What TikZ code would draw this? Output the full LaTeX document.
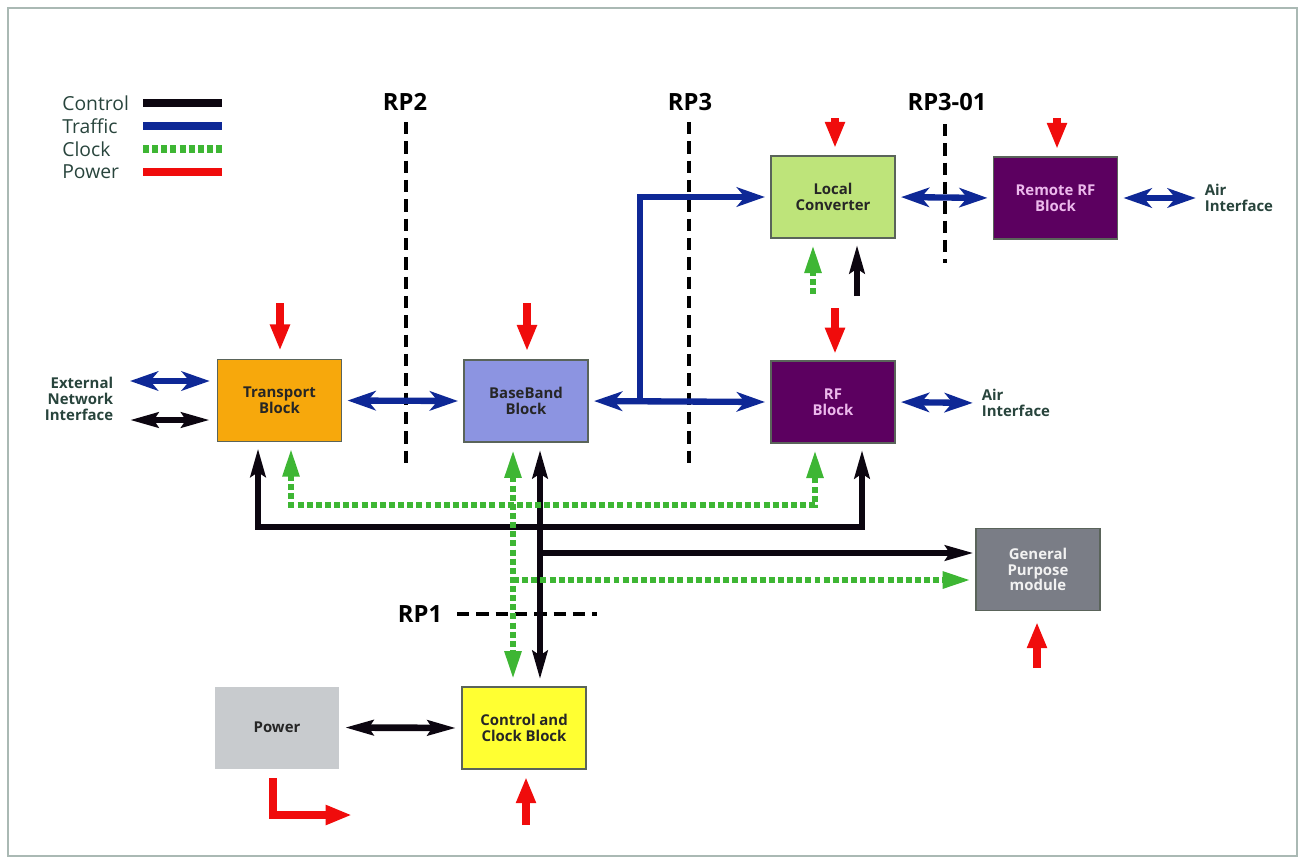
\documentclass[tikz,border=0pt]{standalone}
\usepackage{fontspec}
\setmainfont{Open Sans}
\usetikzlibrary{arrows.meta,calc}
\definecolor{ctlc}{RGB}{12,6,16}
\definecolor{trafc}{RGB}{14,40,150}
\definecolor{clkc}{RGB}{62,182,52}
\definecolor{pwc}{RGB}{240,12,12}
\definecolor{orangec}{RGB}{247,168,12}
\definecolor{bbc}{RGB}{140,148,225}
\definecolor{purp}{RGB}{92,0,96}
\definecolor{pinkt}{RGB}{236,185,236}
\definecolor{lcgc}{RGB}{190,228,122}
\definecolor{gpc}{RGB}{122,125,134}
\definecolor{pwrc}{RGB}{200,203,206}
\definecolor{yelc}{RGB}{255,255,50}
\definecolor{edgec}{RGB}{90,100,90}
\definecolor{txtc}{RGB}{40,68,60}
\definecolor{framec}{RGB}{170,185,180}
\begin{document}
\begin{tikzpicture}[x=0.02cm,y=-0.02cm,
  box/.style={draw=edgec, line width=0.9pt, minimum width=2.48cm, minimum height=1.64cm,
    inner sep=1pt, align=center, font=\fontsize{8.5}{9}\selectfont\bfseries, text=black!85},
  lbl/.style={font=\fontsize{8.5}{9}\selectfont\bfseries, text=txtc, inner sep=2pt},
  leg/.style={font=\fontsize{11}{12}\selectfont, text=txtc, inner sep=0pt},
  rpl/.style={font=\fontsize{13.5}{16}\selectfont\bfseries, text=black, inner sep=0pt},
  rpd/.style={draw=black, line width=2.8pt, dash pattern=on 7pt off 4pt},
  ctl/.style={draw=ctlc, line width=3.8pt, >={Stealth[length=16pt,width=8.5pt,inset=2.5pt]}},
  traf/.style={draw=trafc, line width=3.6pt, >={Stealth[length=16pt,width=11pt,inset=4.5pt]}},
  clk/.style={draw=clkc, line width=3.4pt, dash pattern=on 3.4pt off 1.8pt, >={Triangle[length=16pt,width=9pt]}},
  pw/.style={draw=pwc, line width=4.3pt, >={Triangle[length=15pt,width=10.5pt]}},
  gap/.style={shorten >=3pt, shorten <=3pt}
]
\useasboundingbox (0,0) rectangle (1304,860);
\draw[framec, line width=0.8pt] (8,8) rectangle (1297,856);

% legend
\node[leg,anchor=west] (lgc) at (62,103) {Control};
\node[leg,anchor=west] (lgt) at (62,126) {Traffic};
\node[leg,anchor=west] (lgk) at (62,149) {Clock};
\node[leg,anchor=west] (lgp) at (62,172) {Power};
\coordinate (la1) at (143,103); \coordinate (lb1) at (222,103);
\coordinate (la2) at (143,126); \coordinate (lb2) at (222,126);
\coordinate (la3) at (143,149); \coordinate (lb3) at (222,149);
\coordinate (la4) at (143,172); \coordinate (lb4) at (222,172);
\draw[ctl,line width=4pt] (la1) -- (lb1);
\draw[traf,line width=4pt] (la2) -- (lb2);
\draw[clk,line width=4pt] (la3) -- (lb3);
\draw[pw,line width=4pt] (la4) -- (lb4);

% blocks
\node[box,fill=orangec] (trans) at (279.5,400.5) {Transport\\Block};
\node[box,fill=bbc] (base) at (526,401) {BaseBand\\Block};
\node[box,fill=purp,text=pinkt] (rf) at (833,402) {RF\\Block};
\node[box,fill=lcgc] (lc) at (833,197) {Local\\Converter};
\node[box,fill=purp,text=pinkt] (rrf) at (1055.5,198) {Remote RF\\Block};
\node[box,fill=gpc,text=white!90!gray] (gp) at (1038,569.5) {General\\Purpose\\module};
\node[box,fill=pwrc,draw=none] (pwr) at (277,727.5) {Power};
\node[box,fill=yelc] (ccb) at (524,728) {Control and\\Clock Block};

% text labels
\node[lbl,align=right,anchor=east] (ext) at (117,399) {External\\Network\\Interface};
\node[lbl,align=left,anchor=west] (air1) at (978,403) {Air\\Interface};
\node[lbl,align=left,anchor=west] (air2) at (1201,198) {Air\\Interface};

% reference points
\node[rpl] (rp2) at (405,102) {RP2};
\node[rpl] (rp3) at (690,102) {RP3};
\node[rpl] (rp301) at (947,102) {RP3-01};
\node[rpl] (rp1) at (420,614) {RP1};
\coordinate (r2a) at (406,122); \coordinate (r2b) at (406,466);
\coordinate (r3a) at (689,122); \coordinate (r3b) at (689,466);
\coordinate (r4a) at (945,124); \coordinate (r4b) at (945,263);
\coordinate (r1a) at (457,614); \coordinate (r1b) at (597,614);
\draw[rpd] (r2a) -- (r2b);
\draw[rpd] (r3a) -- (r3b);
\draw[rpd] (r4a) -- (r4b);
\draw[rpd] (r1a) -- (r1b);

% traffic
\coordinate (e1) at (130,381);
\draw[traf,<->,shorten >=4pt] (e1) -- (trans.west |- e1);
\draw[traf,<->,gap] (trans.east) -- (base.west);
\draw[traf,<->,gap] (base.east) -- (rf.west);
\coordinate (br) at (640,402);
\draw[traf,->,shorten >=3pt] (br) |- (lc.west);
\draw[traf,<->,gap] (lc.east) -- (rrf.west);
\draw[traf,<->,gap] (rrf.east) -- (air2.west);
\draw[traf,<->,gap] (rf.east) -- (air1.west);

% control
\coordinate (e2) at (130,420);
\draw[ctl,<->,shorten >=4pt] (e2) -- (trans.west |- e2);
\coordinate (k1) at (258,527); \coordinate (k2) at (862,527);
\draw[ctl,<->,shorten >=3.5pt,shorten <=3.5pt] (trans.south -| k1) -- (k1) -- (k2) -- (rf.south -| k2);
\coordinate (k3) at (540,553);
\draw[ctl,<->,shorten >=4pt,shorten <=4pt] (base.south -| k3) -- (ccb.north -| k3);
\draw[ctl,->,shorten >=1pt] (k3) -- (gp.west |- k3);
\coordinate (k4) at (857,296);
\draw[ctl,->,shorten >=3.5pt] (k4) -- (lc.south -| k4);
\draw[ctl,<->,gap] (pwr.east) -- (ccb.west);

% clock
\coordinate (g1) at (291,505); \coordinate (g2) at (815,505);
\draw[clk,<->,shorten >=3.5pt,shorten <=3.5pt] (trans.south -| g1) -- (g1) -- (g2) -- (rf.south -| g2);
\coordinate (g3) at (513,580);
\draw[clk,<->,shorten >=4pt,shorten <=4pt] (base.south -| g3) -- (ccb.north -| g3);
\draw[clk,->,shorten >=2.5pt] (g3) -- (gp.west |- g3);
\coordinate (g4) at (813,294);
\draw[clk,->,shorten >=3.5pt] (g4) -- (lc.south -| g4);

% power
\coordinate (p1) at (280,303); \draw[pw,->,shorten >=4.5pt] (p1) -- (trans.north -| p1);
\coordinate (p2) at (527,303); \draw[pw,->,shorten >=4.5pt] (p2) -- (base.north -| p2);
\coordinate (p3) at (835,308); \draw[pw,->,shorten >=3.5pt] (p3) -- (rf.north -| p3);
\coordinate (p4) at (835,118); \draw[pw,->,shorten >=4pt] (p4) -- (lc.north -| p4);
\coordinate (p5) at (1057,118); \draw[pw,->,shorten >=4pt] (p5) -- (rrf.north -| p5);
\coordinate (p6) at (1037,668); \draw[pw,->,shorten >=6pt] (p6) -- (gp.south -| p6);
\coordinate (p7) at (526,825); \draw[pw,->,shorten >=4pt] (p7) -- (ccb.south -| p7);
\coordinate (pl2) at (273,815); \coordinate (pl3) at (352,815);
\draw[pw,->,shorten <=5pt] (pwr.south -| pl2) -- (pl2) -- (pl3);
\end{tikzpicture}
\end{document}
